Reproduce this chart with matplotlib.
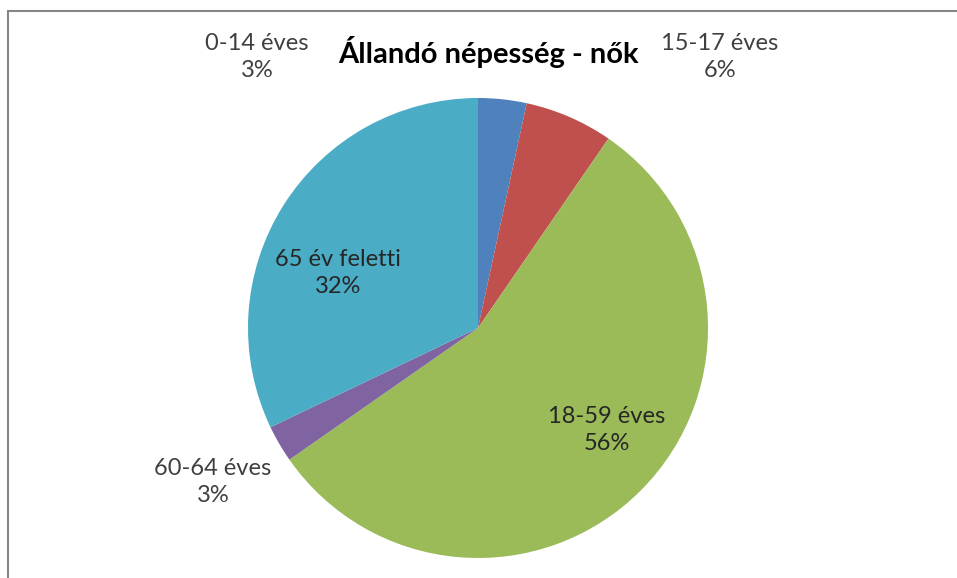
import matplotlib
matplotlib.use('Agg')
import matplotlib.pyplot as plt
from matplotlib.patches import Rectangle

categories = ["0-14 éves", "15-17 éves", "18-59 éves", "60-64 éves", "65 év feletti"]
shares = [3.4, 6.2, 55.7, 2.6, 32.1]
colors = ["#4F81BD", "#C0504D", "#9BBB59", "#8064A2", "#4BACC6"]
title = "Állandó népesség - nők"

# label anchor points in pixels (x, y from top), as placed in the original
label_pos = [(257, 57), (720, 57), (607, 430), (213, 482), (338, 273)]
inside = [False, False, True, False, True]

W, H = 957, 578
plt.rcParams['font.family'] = ['Lato', 'DejaVu Sans']

fig = plt.figure(figsize=(W / 100, H / 100), dpi=100)
ax = fig.add_axes([0, 0, 1, 1])

ax.pie(shares, colors=colors, startangle=90, counterclock=False,
       center=(478, H - 328), radius=230, frame=True)
ax.set_xlim(0, W)
ax.set_ylim(0, H)
ax.set_aspect('equal')
ax.axis('off')

for cat, val, (x, y), ins in zip(categories, shares, label_pos, inside):
    ax.text(x, H - y, f"{cat}\n{round(val)}%", ha='center', va='center',
            fontsize=17, color='#262626' if ins else '#404040', linespacing=1.35)

ax.text(488, H - 63, title, ha='center', va='baseline', fontsize=21,
        fontweight='bold', color='black')

# chart frame (runs off the right and bottom edges)
fig.patches.append(Rectangle((8 / W, -0.1), 1.2, (H - 11) / H + 0.1,
                             transform=fig.transFigure, fill=False,
                             edgecolor='#868686', linewidth=1.5))

fig.savefig("out.png", dpi=100, facecolor='white')
